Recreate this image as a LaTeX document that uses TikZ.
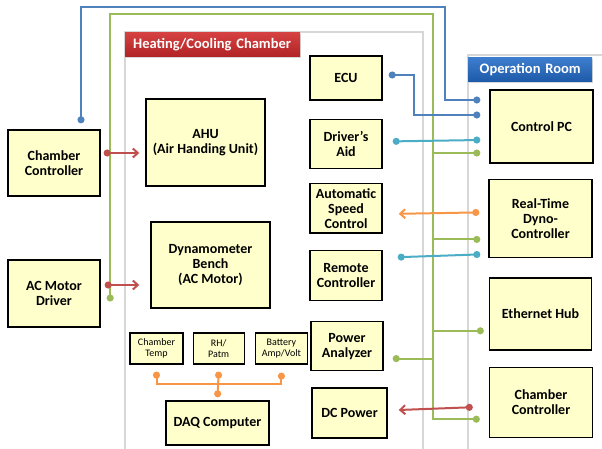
\documentclass[tikz,border=0pt]{standalone}
\usepackage{fontspec}
\setmainfont{Carlito}
\usepackage{tikz}
\usetikzlibrary{arrows.meta,positioning,shadows}
\definecolor{unitfill}{RGB}{255,255,204}
\definecolor{linkblue}{RGB}{79,129,189}
\definecolor{linkcyan}{RGB}{75,172,198}
\definecolor{linkgreen}{RGB}{155,187,89}
\definecolor{linkorange}{RGB}{247,150,70}
\definecolor{linkred}{RGB}{192,80,77}
\definecolor{wallgray}{RGB}{215,215,215}
\tikzset{
  unit/.style={draw, line width=1.4pt, fill=unitfill, align=center, inner sep=2pt, font=\bfseries\fontsize{14}{15}\selectfont},
  sensor/.style={unit, line width=1.2pt, font=\fontsize{10}{11.5}\selectfont, minimum height=31pt},
  wall/.style={draw=wallgray, line width=2pt},
  roomtitle/.style={anchor=north west, text=white, inner xsep=8pt, inner ysep=0pt, minimum height=24pt, font=\bfseries\fontsize{14.5}{15}\selectfont, drop shadow={shadow xshift=1pt, shadow yshift=-1.5pt, fill=black!30}},
  link/.style={line width=2pt, {Circle[length=7pt]}-{Circle[length=7pt]}},
  linkarrow/.style={line width=2pt, {Circle[length=7pt]}-{Straight Barb[length=5pt,width=9pt]}}
}

\begin{document}
\begin{tikzpicture}[x=1pt, y=-1pt, node distance=16pt]
  \useasboundingbox (0,0) rectangle (602,449);

  % rooms
  \draw[wall] (125,449) -- (125,32) -- (423,32) -- (423,449);
  \draw[wall] (468,449) -- (468,55) -- (602,55);
  \node[roomtitle, top color={rgb,255:red,214;green,66;blue,66}, bottom color={rgb,255:red,178;green,36;blue,38}, text width=159pt, align=left] (heat) at (125,32) {Heating/Cooling Chamber};
  \node[roomtitle, top color={rgb,255:red,62;green,126;blue,206}, bottom color={rgb,255:red,30;green,90;blue,170}, text width=108pt, align=center] (oper) at (468,57) {Operation Room};

  % outside, left
  \node[unit, minimum width=92pt, minimum height=66pt] (ccL) at (54,163) {Chamber\\Controller};
  \node[unit, minimum width=92pt, minimum height=67pt] (acm) at (54,293.5) {AC Motor\\Driver};

  % chamber
  \node[unit, minimum width=119pt, minimum height=87pt] (ahu) at (205.5,142.5) {AHU\\(Air Handing Unit)};
  \node[unit, minimum width=119pt, minimum height=86pt] (dyno) at (210.5,265) {Dynamometer\\Bench\\(AC Motor)};
  \node[sensor, minimum width=53pt] (ctemp) at (156.5,348.5) {Chamber\\Temp};
  \node[sensor, minimum width=51pt, right=9pt of ctemp] (rh) {RH/\\Patm};
  \node[sensor, minimum width=52pt, right=10pt of rh] (batt) {Battery\\Amp/Volt};
  \node[unit, minimum width=103pt, minimum height=44pt] (daq) at (217.5,423) {DAQ Computer};

  \node[unit, minimum width=72pt, minimum height=44pt] (ecu) at (346,78) {ECU};
  \node[unit, minimum width=72pt, minimum height=49pt, below=18pt of ecu] (daid) {Driver’s\\Aid};
  \node[unit, minimum width=72pt, minimum height=49pt, below=14pt of daid] (asc) {Automatic\\Speed\\Control};
  \node[unit, minimum width=72pt, minimum height=50pt, below=of asc] (rc) {Remote\\Controller};
  \node[unit, minimum width=72pt, minimum height=49pt, below=20pt of rc, xshift=1pt] (pa) {Power\\Analyzer};
  \node[unit, minimum width=75pt, minimum height=50pt, below=of pa, xshift=2.5pt] (dcp) {DC Power};

  % operation room
  \node[unit, minimum width=103pt, minimum height=73pt] (cpc) at (541.5,126.5) {Control PC};
  \node[unit, minimum width=103pt, minimum height=78pt, below=15pt of cpc, xshift=-1pt] (rtd) {Real-Time\\Dyno-\\Controller};
  \node[unit, minimum width=102pt, minimum height=72pt, below=19pt of rtd] (eth) {Ethernet Hub};
  \node[unit, minimum width=103pt, minimum height=70pt, below=of eth, xshift=0.5pt] (ccR) {Chamber\\Controller};

  % network (green)
  \coordinate (gtrunk) at (433,14);
  \coordinate (gCPC) at ([xshift=-9pt,yshift=-26.5pt]cpc.west);
  \coordinate (gRTD) at ([xshift=-8pt,yshift=-21pt]rtd.west);
  \coordinate (gETH) at ([xshift=-5pt,yshift=-17pt]eth.west);
  \coordinate (gPA) at ([xshift=9pt,yshift=-12.5pt]pa.east);
  \coordinate (gCCR) at ([xshift=-9pt,yshift=-17pt]ccR.west);
  \draw[link, linkgreen] ([xshift=6pt,yshift=-4.5pt]acm.east) -| (110,14) -- (gtrunk) |- (gCCR);
  \foreach \c in {gCPC,gRTD,gETH,gPA}
    \draw[line width=2pt, linkgreen, -{Circle[length=7pt]}] (gtrunk |- \c) -- (\c);

  % blue links
  \draw[link, linkblue] ([xshift=27pt,yshift=6pt]ccL.north) |- (445,7) |- ([xshift=-9pt,yshift=26.5pt]cpc.west);
  \draw[link, linkblue] ([xshift=6pt,yshift=3pt]ecu.east) -| (414,115) -- ([xshift=-9pt,yshift=11.5pt]cpc.west);

  % cyan links
  \draw[link, linkcyan] ([xshift=10pt,yshift=2.5pt]daid.east) -- ([xshift=-9pt,yshift=-13.5pt]cpc.west);
  \draw[link, linkcyan] ([xshift=15pt,yshift=18pt]rc.east) -- ([xshift=-8pt,yshift=-36pt]rtd.west);

  % orange
  \draw[linkarrow, linkorange] ([xshift=-9pt,yshift=6pt]rtd.west) -- ([xshift=16pt,yshift=-5.5pt]asc.east);
  \draw[link, linkorange] ([yshift=-7pt]ctemp.south) |- ([yshift=-19pt]rh.south) -| ([yshift=-8pt]batt.south);
  \draw[link, linkorange] ([yshift=-7pt]rh.south) -- ([yshift=3pt]daq.north);

  % red
  \draw[linkarrow, linkred] ([xshift=3pt,yshift=10pt]ccL.east) -- ([xshift=-6pt,yshift=-10.5pt]ahu.west);
  \draw[linkarrow, linkred] ([xshift=4pt,yshift=8.5pt]acm.east) -- ([xshift=-11pt,yshift=-20pt]dyno.west);
  \draw[linkarrow, linkred] ([xshift=-16pt,yshift=-5pt]ccR.west) -- ([xshift=11pt,yshift=3pt]dcp.east);
\end{tikzpicture}
\end{document}
